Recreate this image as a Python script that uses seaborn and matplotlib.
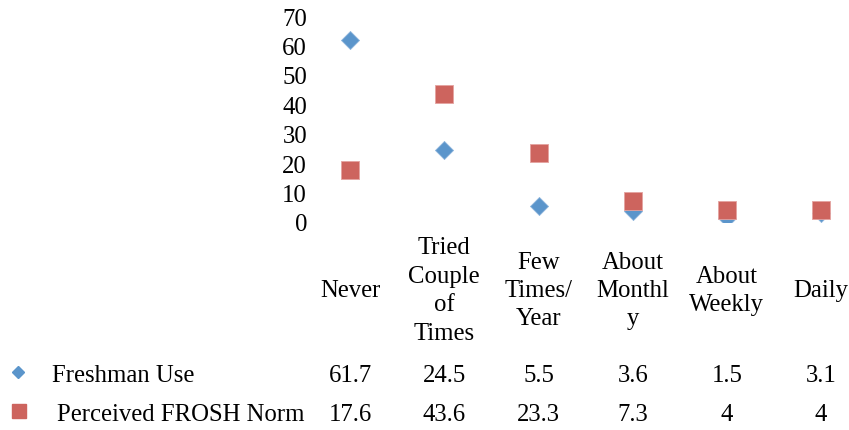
import matplotlib
matplotlib.use("Agg")
import matplotlib.pyplot as plt
import matplotlib.transforms as mtransforms
from matplotlib.lines import Line2D
import pandas as pd
import seaborn as sns

# Survey answers: frequency of use among freshmen vs. perceived norm
categories = ["Never", "Tried\nCouple\nof\nTimes", "Few\nTimes/\nYear",
              "About\nMonthl\ny", "About\nWeekly", "Daily"]
series_names = ["Freshman Use", "Perceived FROSH Norm"]
freshman_use = [61.7, 24.5, 5.5, 3.6, 1.5, 3.1]
perceived_norm = [17.6, 43.6, 23.3, 7.3, 4, 4]
y_ticks = [0, 10, 20, 30, 40, 50, 60, 70]

blue = "#5B95CB"
red = "#CD645E"

sns.set_style("white")
plt.rcParams["font.family"] = ["Liberation Serif", "DejaVu Serif"]
plt.rcParams["text.color"] = "black"
plt.rcParams["ytick.color"] = "black"
FS = 17.8

W, H = 849, 431
fig = plt.figure(figsize=(W / 100, H / 100), dpi=100)

# plot area in pixel terms
col_w = 94.2
left_px = 303
bottom_px, top_px = 223, 17
ax = fig.add_axes([left_px / W, 1 - bottom_px / H,
                   (W - left_px) / W, (bottom_px - top_px) / H])

df = pd.DataFrame({
    "category": categories * 2,
    "value": freshman_use + perceived_norm,
    "series": [series_names[0]] * len(categories) + [series_names[1]] * len(categories),
})

sns.scatterplot(data=df[df.series == series_names[0]], x="category", y="value",
                marker="D", s=9.2 ** 2, color=blue, edgecolor="#8fb6dc",
                linewidth=0.6, ax=ax, legend=False, zorder=3)
sns.scatterplot(data=df[df.series == series_names[1]], x="category", y="value",
                marker="s", s=13 ** 2, color=red, edgecolor="#e4a3a0",
                linewidth=0.6, ax=ax, legend=False, zorder=4)

ax.set_xlim(-0.5, -0.5 + (W - left_px) / col_w)
ax.set_ylim(0, 70)
ax.set_yticks(y_ticks)
ax.set_yticklabels([str(t) for t in y_ticks], fontsize=FS)
ax.tick_params(axis="y", length=0, pad=-3, labelcolor="black")
ax.set_xticks([])
ax.set_xlabel("")
ax.set_ylabel("")
for sp in ax.spines.values():
    sp.set_visible(False)

# data table beneath the plot
blend = mtransforms.blended_transform_factory(ax.transData, fig.transFigure)
for i, cat in enumerate(categories):
    ax.text(i, 1 - 291 / H, cat, transform=blend, ha="center", va="center",
            fontsize=FS, linespacing=1.38, clip_on=False)
    ax.text(i, 1 - 376 / H, f"{freshman_use[i]:g}", transform=blend,
            ha="center", va="center", fontsize=FS, clip_on=False)
    ax.text(i, 1 - 415 / H, f"{perceived_norm[i]:g}", transform=blend,
            ha="center", va="center", fontsize=FS, clip_on=False)

# row headers with legend keys
fig.add_artist(Line2D([18 / W], [1 - 373 / H], transform=fig.transFigure,
                      marker="D", markersize=6.1, color=blue, linestyle="none"))
fig.add_artist(Line2D([19 / W], [1 - 412 / H], transform=fig.transFigure,
                      marker="s", markersize=9.4, color=red, linestyle="none"))
fig.text(52 / W, 1 - 376 / H, series_names[0], ha="left", va="center", fontsize=FS)
fig.text(57 / W, 1 - 415 / H, series_names[1], ha="left", va="center", fontsize=FS)

fig.savefig("out.png", dpi=100, facecolor="white")
